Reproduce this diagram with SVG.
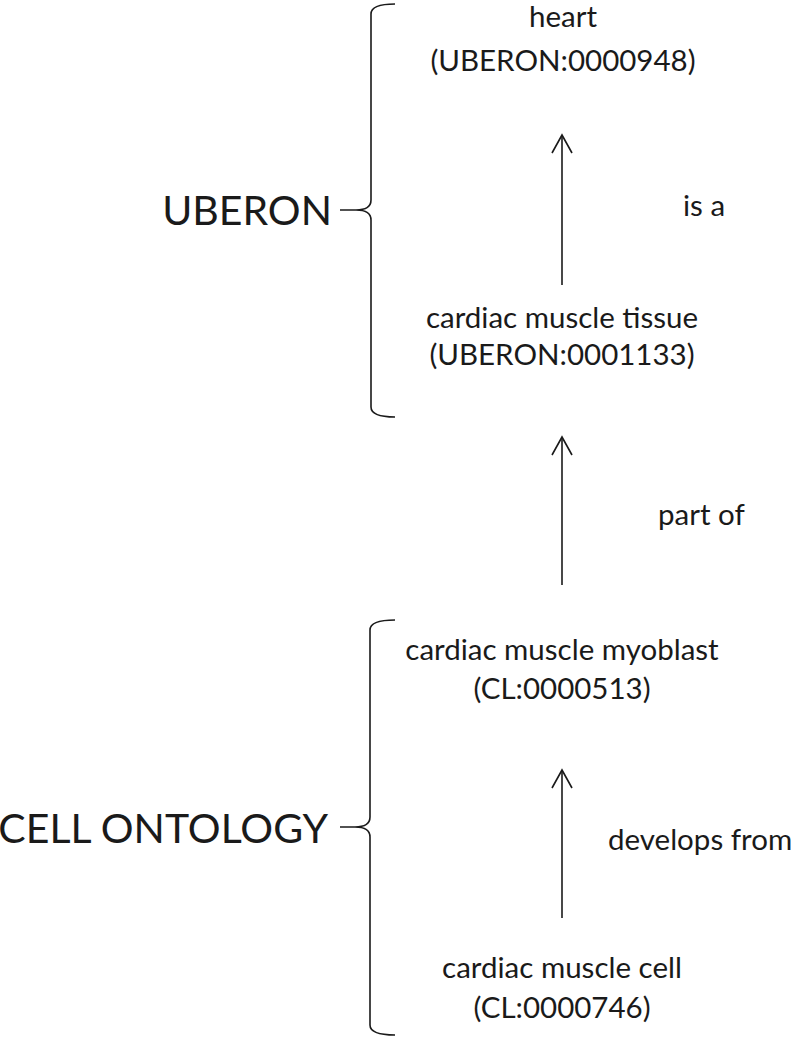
<svg xmlns="http://www.w3.org/2000/svg" width="799" height="1037" viewBox="0 0 799 1037">
<style>
text{font-family:Lato,"Open Sans","Liberation Sans",sans-serif;fill:#1a1a1a}
.n{font-size:29.5px;text-anchor:middle}
.e{font-size:29.5px}
.big{font-size:41px;text-anchor:end}
.br{fill:none;stroke:#1a1a1a;stroke-width:1.6}
.ln{fill:none;stroke:#1a1a1a;stroke-width:1.6;marker-end:url(#ah)}
</style>
<defs>
<marker id="ah" markerUnits="userSpaceOnUse" markerWidth="24" markerHeight="24" viewBox="-20 -12 24 24" refX="0" refY="0" orient="auto">
<path d="M-18,-10 L0,0 L-18,10" fill="none" stroke="#1a1a1a" stroke-width="1.6"/>
</marker>
</defs>
<rect width="799" height="1037" fill="#fff"/>
<g id="uberon-group">
<path class="br" d="M395,4 Q371,4 371,14 L371,200 Q371,210 356,210 L340,210 M356,210 Q371,210 371,220 L371,407 Q371,417 395,417"/>
<text class="big" x="332" y="225">UBERON</text>
</g>
<g id="cl-group">
<path class="br" d="M395,620 Q370,620 370,630 L370,817 Q370,827 355,827 L340,827 M355,827 Q370,827 370,837 L370,1025 Q370,1035 395,1035"/>
<text class="big" x="328" y="843" font-size="40.5">CELL ONTOLOGY</text>
</g>
<g id="heart">
<text class="n" x="563" y="27">heart</text>
<text class="n" x="563" y="71">(UBERON:0000948)</text>
</g>
<g id="cardiac-muscle-tissue">
<text class="n" x="562" y="328">cardiac muscle tissue</text>
<text class="n" x="562" y="365">(UBERON:0001133)</text>
</g>
<g id="cardiac-muscle-myoblast">
<text class="n" x="562" y="660">cardiac muscle myoblast</text>
<text class="n" x="562" y="699">(CL:0000513)</text>
</g>
<g id="cardiac-muscle-cell">
<text class="n" x="562" y="978">cardiac muscle cell</text>
<text class="n" x="562" y="1018">(CL:0000746)</text>
</g>
<g id="connectors">
<line class="ln" x1="562" y1="285" x2="562" y2="135"/>
<line class="ln" x1="562" y1="585" x2="562" y2="437"/>
<line class="ln" x1="562" y1="918" x2="562" y2="770"/>
<text class="e" x="683" y="216">is a</text>
<text class="e" x="658" y="525">part of</text>
<text class="e" x="608" y="850">develops from</text>
</g>
</svg>
